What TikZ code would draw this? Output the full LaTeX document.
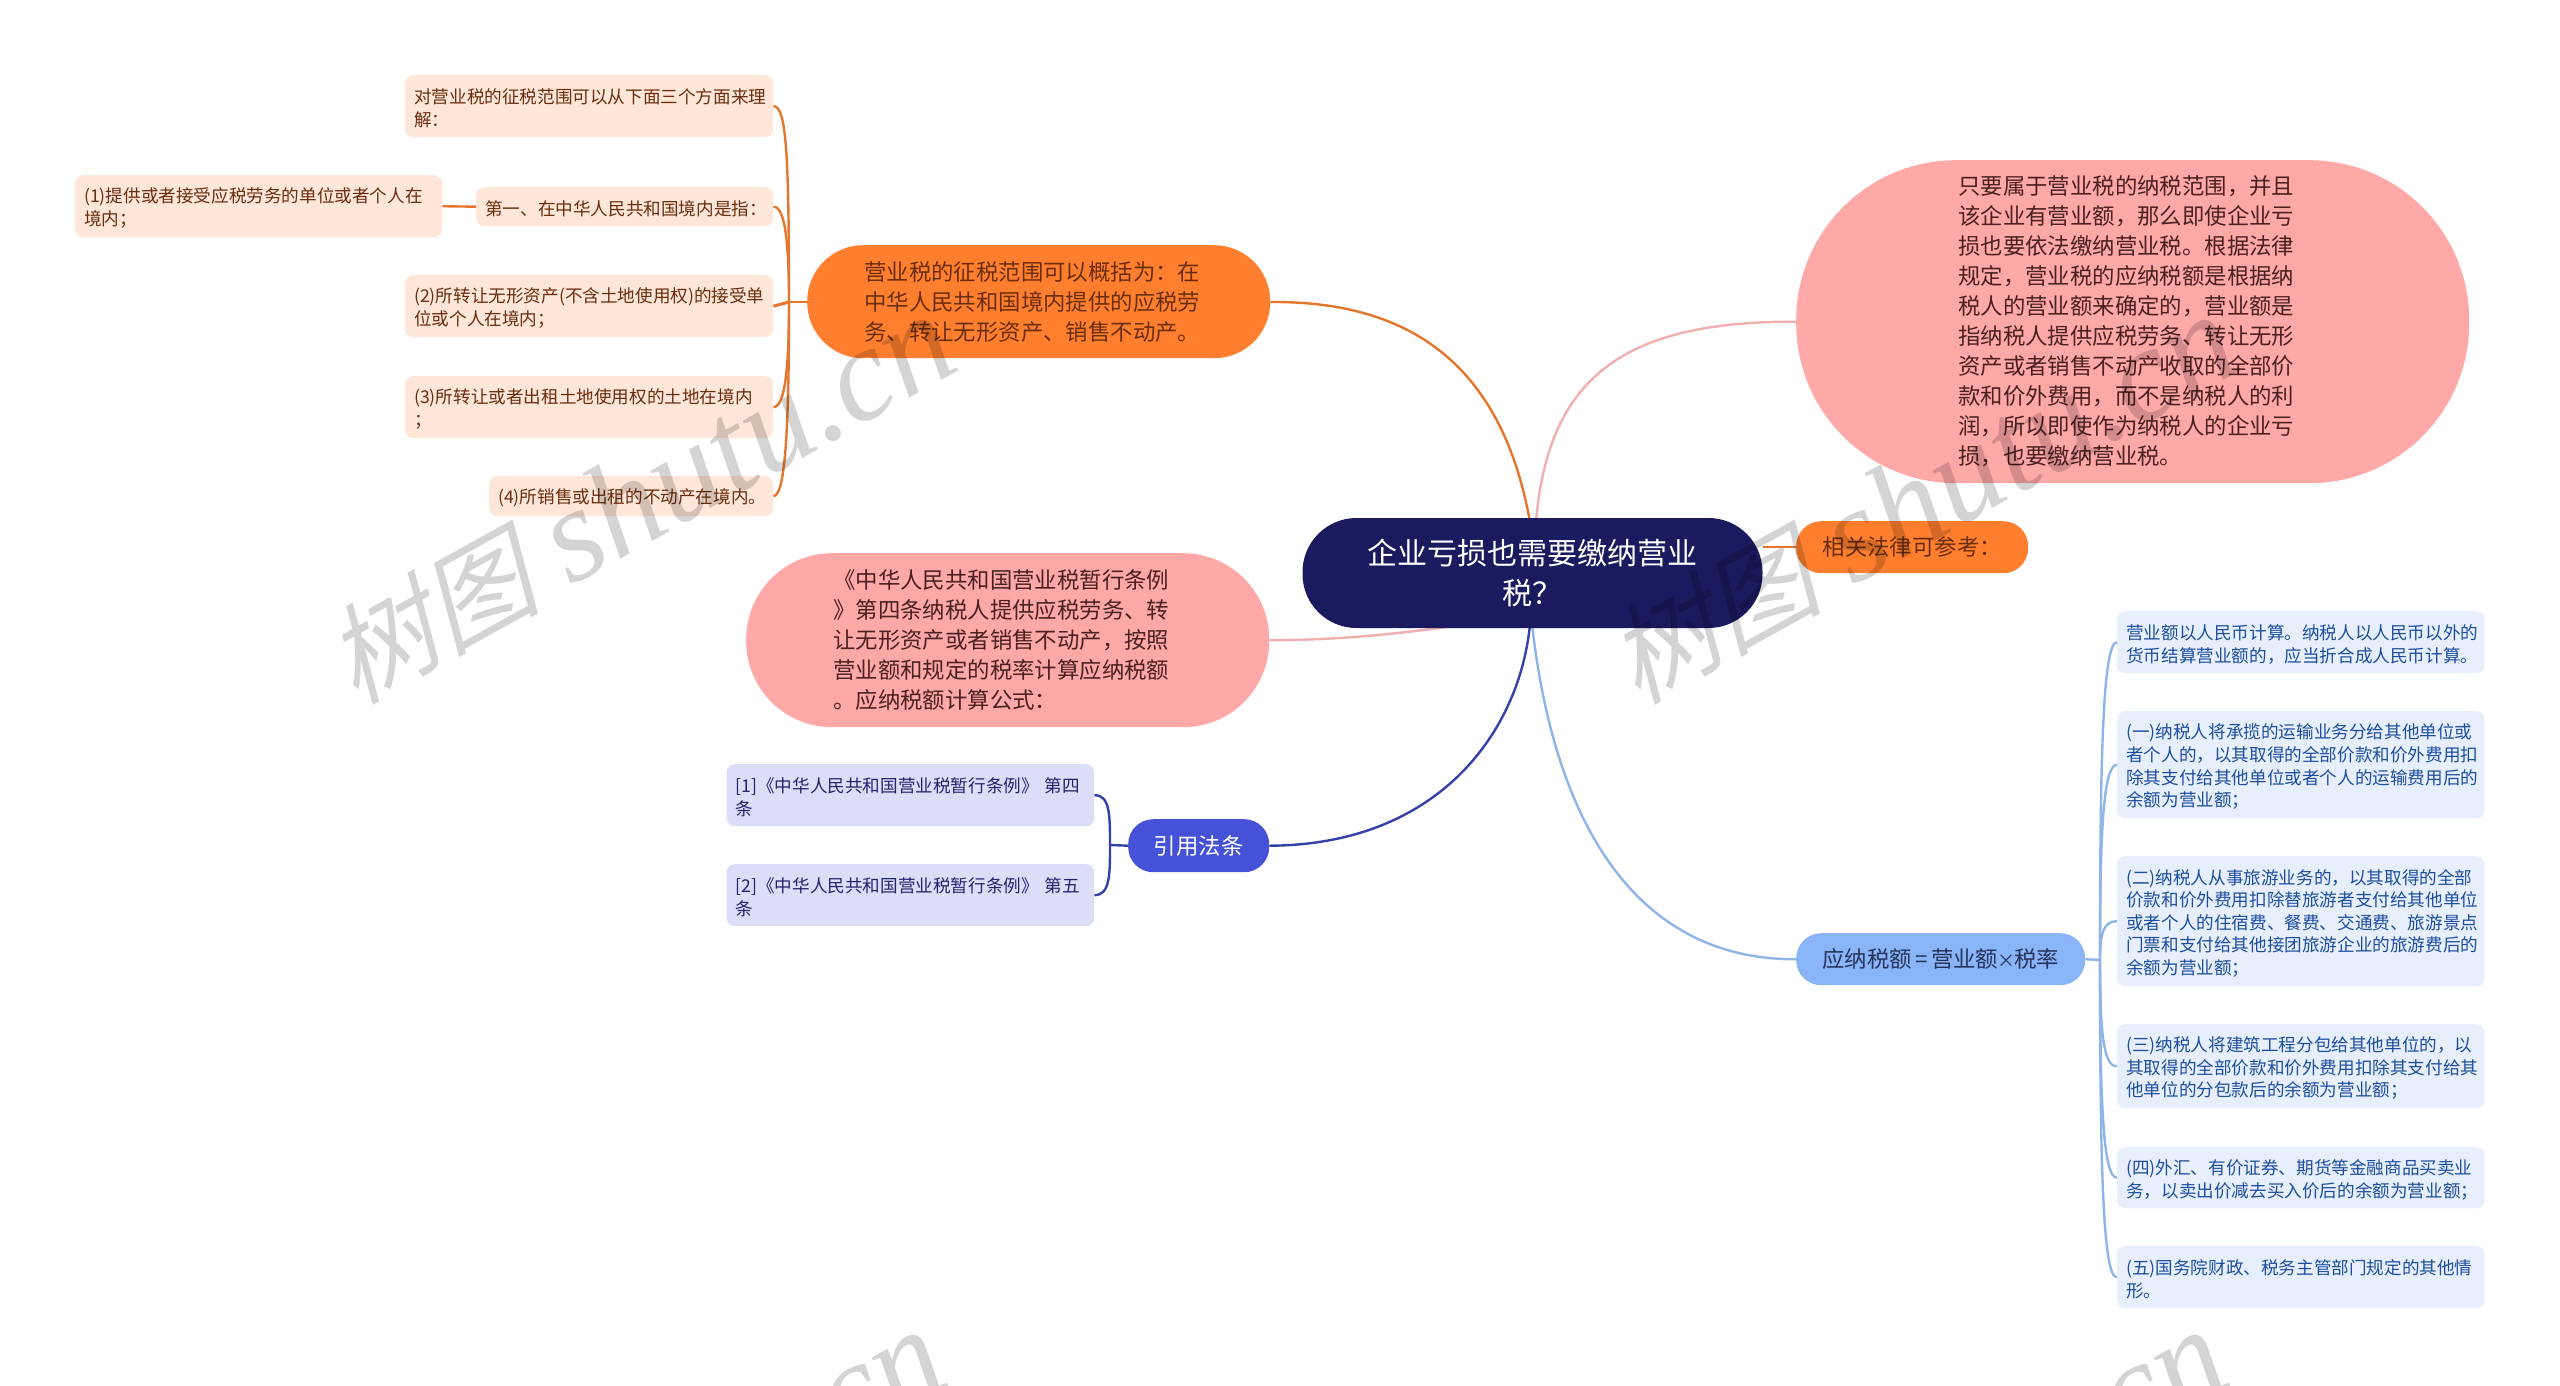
\documentclass[tikz,border=0pt]{standalone}
\usepackage{fontspec}
\setmainfont{Noto Sans CJK SC}
\newfontfamily\wmcjk[FakeSlant=0.25]{Noto Sans CJK SC}
\newfontfamily\wmlat{Liberation Serif}
\definecolor{navyc}{HTML}{1A1A5E}
\definecolor{orangec}{HTML}{FF7F2E}
\definecolor{orangel}{HTML}{E5762E}
\definecolor{pinkc}{HTML}{FFA8A8}
\definecolor{pinkl}{HTML}{F2AFAF}
\definecolor{leafo}{HTML}{FEE6D9}
\definecolor{texto}{HTML}{6A2E0E}
\definecolor{textp}{HTML}{4A2020}
\definecolor{indigoc}{HTML}{4551D6}
\definecolor{indigol}{HTML}{3540A8}
\definecolor{leafi}{HTML}{DCDDF7}
\definecolor{texti}{HTML}{23246E}
\definecolor{bluec}{HTML}{8AB4F8}
\definecolor{bluel}{HTML}{8FB4E8}
\definecolor{leafb}{HTML}{E7EFFC}
\definecolor{textb}{HTML}{1D4E9E}
\definecolor{textc}{HTML}{24345A}
\pgfdeclarelayer{under}
\pgfsetlayers{under,main}
\tikzset{
 x=1pt,y=-1pt,
 box/.style={rectangle,inner ysep=0pt,inner xsep=0pt,align=left,anchor=north west},
 sized/.style n args={3}{minimum width=#1,minimum height=#2,text width=#3},
 big/.style={box,font=\fontsize{22.4}{30}\selectfont},
 small/.style={box,rounded corners=8pt,font=\fontsize{17.6}{22.6}\selectfont,inner xsep=9pt,execute at begin node={\rule{0pt}{19pt}}},
 leaforange/.style={small,fill=leafo,text=texto},
 leafindigo/.style={small,fill=leafi,text=texti},
 leafblue/.style={small,fill=leafb,text=textb},
 linko/.style={draw=orangel,line width=2.4pt},
 linkp/.style={draw=pinkl,line width=2.4pt},
 linki/.style={draw=indigol,line width=2.4pt},
 linkb/.style={draw=bluel,line width=2.4pt},
 wm/.style={rotate=29,anchor=base,text=black,opacity=.17},
}
\newcommand{\wmtext}{{\wmcjk\fontsize{108}{110}\selectfont 树图}\hspace{30pt}{\wmlat\itshape\fontsize{134}{134}\selectfont shutu.cn}}
\begin{document}
\begin{tikzpicture}
\useasboundingbox (0,0) rectangle (2560,1385);
\clip (0,0) rectangle (2560,1385);
% nodes
\node[big,fill=navyc,text=white,rounded corners=54pt,align=center,minimum width=460pt,minimum height=110pt,anchor=center,font=\fontsize{30}{40}\selectfont] (root) at (1532.5,573) {企业亏损也需要缴纳营业\\税？};
\node[big,fill=orangec,text=texto,rounded corners=56pt,inner xsep=57pt,text width=349pt,minimum height=113pt] (ob) at (807,245) {营业税的征税范围可以概括为：在\\中华人民共和国境内提供的应税劳\\务、转让无形资产、销售不动产。};
\node[big,fill=pinkc,text=textp,rounded corners=160pt,inner xsep=162pt,text width=349pt,minimum height=323pt] (pr) at (1796,160) {只要属于营业税的纳税范围，并且\\该企业有营业额，那么即使企业亏\\损也要依法缴纳营业税。根据法律\\规定，营业税的应纳税额是根据纳\\税人的营业额来确定的，营业额是\\指纳税人提供应税劳务、转让无形\\资产或者销售不动产收取的全部价\\款和价外费用，而不是纳税人的利\\润，所以即使作为纳税人的企业亏\\损，也要缴纳营业税。};
\node[big,fill=orangec,text=texto,rounded corners=25pt,align=center,minimum width=232pt,minimum height=52pt] (os) at (1796,521) {相关法律可参考：};
\node[big,fill=pinkc,text=textp,rounded corners=86pt,inner xsep=87pt,text width=349pt,minimum height=174pt] (pl) at (746,553) {《中华人民共和国营业税暂行条例\\》第四条纳税人提供应税劳务、转\\让无形资产或者销售不动产，按照\\营业额和规定的税率计算应纳税额\\。应纳税额计算公式：};
\node[big,fill=indigoc,text=white,rounded corners=25pt,align=center,minimum width=141pt,minimum height=53pt] (cite) at (1128,819) {引用法条};
\node[big,fill=bluec,text=textc,rounded corners=25pt,align=center,minimum width=289pt,minimum height=52pt] (tax) at (1796,933) {应纳税额\makebox[19pt]{=}营业额\makebox[16pt]{\fontsize{18}{30}\selectfont ×}税率};
% left leaves
\node[leaforange,sized={368pt}{62pt}{350pt}] (l1) at (405,75) {对营业税的征税范围可以从下面三个方面来理\\解：};
\node[leaforange,sized={297pt}{39pt}{279pt}] (l2) at (476,187) {第一、在中华人民共和国境内是指：};
\node[leaforange,sized={367pt}{62pt}{349pt}] (l2a) at (75,175) {(1)提供或者接受应税劳务的单位或者个人在\\境内；};
\node[leaforange,sized={368pt}{62pt}{350pt}] (l3) at (405,275) {(2)所转让无形资产(不含土地使用权)的接受单\\位或个人在境内；};
\node[leaforange,sized={368pt}{62pt}{350pt}] (l4) at (405,376) {(3)所转让或者出租土地使用权的土地在境内\\；};
\node[leaforange,sized={284pt}{40pt}{266pt}] (l5) at (489,476) {(4)所销售或出租的不动产在境内。};
% law leaves
\node[leafindigo,sized={367.5pt}{62pt}{349.5pt}] (c1) at (726.5,764) {[1]《中华人民共和国营业税暂行条例》~第四\\条};
\node[leafindigo,sized={367.5pt}{62pt}{349.5pt}] (c2) at (726.5,864) {[2]《中华人民共和国营业税暂行条例》~第五\\条};
% right leaves
\node[leafblue,sized={367.5pt}{62pt}{349.5pt}] (r1) at (2117,611) {营业额以人民币计算。纳税人以人民币以外的\\货币结算营业额的，应当折合成人民币计算。};
\node[leafblue,sized={367.5pt}{107pt}{349.5pt}] (r2) at (2117,711) {(一)纳税人将承揽的运输业务分给其他单位或\\者个人的，以其取得的全部价款和价外费用扣\\除其支付给其他单位或者个人的运输费用后的\\余额为营业额；};
\node[leafblue,sized={367.5pt}{130pt}{349.5pt}] (r3) at (2117,856) {(二)纳税人从事旅游业务的，以其取得的全部\\价款和价外费用扣除替旅游者支付给其他单位\\或者个人的住宿费、餐费、交通费、旅游景点\\门票和支付给其他接团旅游企业的旅游费后的\\余额为营业额；};
\node[leafblue,sized={367.5pt}{84pt}{349.5pt}] (r4) at (2117,1024) {(三)纳税人将建筑工程分包给其他单位的，以\\其取得的全部价款和价外费用扣除其支付给其\\他单位的分包款后的余额为营业额；};
\node[leafblue,sized={367.5pt}{61pt}{349.5pt}] (r5) at (2117,1147) {(四)外汇、有价证券、期货等金融商品买卖业\\务，以卖出价减去买入价后的余额为营业额；};
\node[leafblue,sized={367.5pt}{62pt}{349.5pt}] (r6) at (2117,1246) {(五)国务院财政、税务主管部门规定的其他情\\形。};
% connectors, under the nodes
\begin{pgfonlayer}{under}
\fill[white] (0,0) rectangle (2560,1385);
\coordinate (rt) at (1530,522);
\coordinate (rtp) at (1536,522);
\coordinate (rb) at (1530,624);
\coordinate (rbb) at (1532,624);
\coordinate (rpl) at (1480,622);
\coordinate (busl) at (789,302);
\coordinate (busc) at (1110,845);
\coordinate (busr) at (2100,960);
\draw[linko] (rt) .. controls (1500,355) and (1400,301) .. (ob.east |- busl);
\draw[linkp] (rtp) .. controls (1548,380) and (1620,321) .. (pr.west);
\draw[linko] (root.east |- os.west) -- (os.west);
\draw[linkp] (pl.east) .. controls (1330,640) and (1390,636) .. (rpl);
\draw[linki] (rb) .. controls (1520,730) and (1440,845) .. (cite.east);
\draw[linkb] (rbb) .. controls (1555,830) and (1640,960) .. (tax.west);
\draw[linko] (ob.west |- busl) -- (busl);
\draw[linko] (busl) .. controls (789,150) and (786,106) .. (l1.east);
\draw[linko] (busl) .. controls (789,250) and (786,206) .. (l2.east);
\draw[linko,line width=3pt] (busl) -- (l3.east);
\draw[linko] (busl) .. controls (789,360) and (786,407) .. (l4.east);
\draw[linko] (busl) .. controls (789,420) and (786,496) .. (l5.east);
\draw[linko] (l2.west) -- (l2a.east);
\draw[linki] (cite.west) -- (busc);
\draw[linki] (busc) .. controls (1110,815) and (1110,795) .. (c1.east);
\draw[linki] (busc) .. controls (1110,875) and (1110,895) .. (c2.east);
\draw[linkb] (tax.east) -- (busr);
\foreach \n/\y in {r1/642,r2/765,r3/921,r4/1067,r5/1178,r6/1279}{
  \draw[linkb] (busr) .. controls (2100,{(\y*0.65+960*0.35)}) and (2103,\y) .. (\n.west);
}
\end{pgfonlayer}
% watermark over everything
\node[wm] (w1) at (660,537) {\wmtext};
\node[wm] (w2) at (1942,537) {\wmtext};
\node[wm] (w3) at (650,1552) {\wmtext};
\node[wm] (w4) at (1932,1552) {\wmtext};
\end{tikzpicture}
\end{document}
